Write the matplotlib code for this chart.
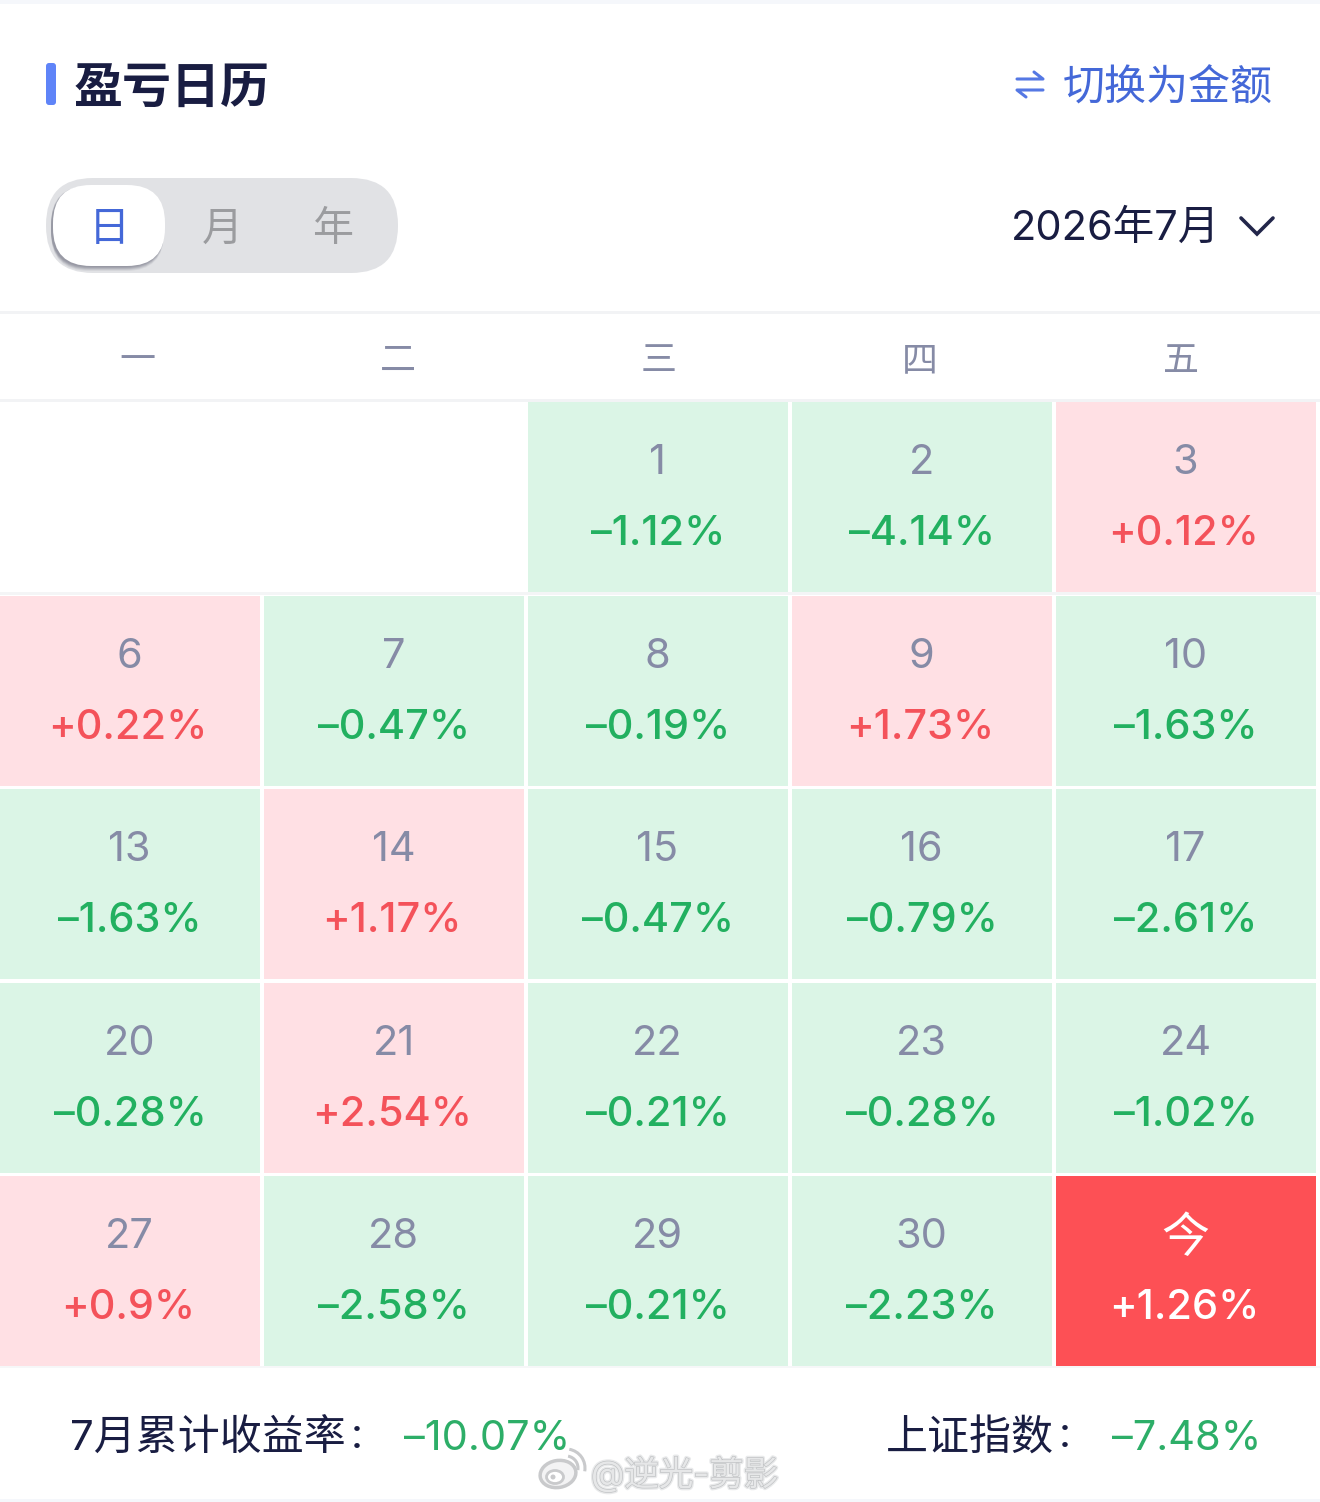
import matplotlib
matplotlib.use("Agg")
import matplotlib.pyplot as plt
import matplotlib.patheffects as pe
from matplotlib.patches import Rectangle, FancyBboxPatch, Ellipse, Arc

W, H = 1320, 1502
CJK = 'Noto Sans CJK SC'
LATIN = 'Inter'
plt.rcParams['font.family'] = [LATIN, CJK, 'DejaVu Sans']

title = '盈亏日历'
switch_label = '切换为金额'
tabs = ['日', '月', '年']
period = '2026年7月'
weekdays = ['一', '二', '三', '四', '五']
week1_days = [None, None, 1, 2, 3]
week1_vals = [None, None, -1.12, -4.14, 0.12]
week2_days = [6, 7, 8, 9, 10]
week2_vals = [0.22, -0.47, -0.19, 1.73, -1.63]
week3_days = [13, 14, 15, 16, 17]
week3_vals = [-1.63, 1.17, -0.47, -0.79, -2.61]
week4_days = [20, 21, 22, 23, 24]
week4_vals = [-0.28, 2.54, -0.21, -0.28, -1.02]
week5_days = [27, 28, 29, 30, '今']
week5_vals = [0.9, -2.58, -0.21, -2.23, 1.26]
summary_label = '7月累计收益率'
summary_value = -10.07
index_label = '上证指数'
index_value = -7.48
watermark = '@逆光-剪影'

days = [week1_days, week2_days, week3_days, week4_days, week5_days]
vals = [week1_vals, week2_vals, week3_vals, week4_vals, week5_vals]

DARK = '#191d42'
BLUE = '#4468d8'
SLATE = '#868ba6'
GREEN = '#22b060'
RED = '#f4525a'
BG_GREEN = '#dbf5e6'
BG_RED = '#ffe0e4'
TODAY = '#fd5055'

def px(s):
    return s * 72 / 100

def fmt(v):
    return f'{v:+g}%'.replace('-', '–')

fig = plt.figure(figsize=(W / 100, H / 100), dpi=100, facecolor='white')
ax = fig.add_axes([0, 0, 1, 1])
ax.set_xlim(0, W)
ax.set_ylim(H, 0)
ax.axis('off')

def rect(x0, y0, x1, y1, c, z=1, **k):
    ax.add_patch(Rectangle((x0, y0), x1 - x0, y1 - y0, fc=c, ec='none', zorder=z, **k))

def pill(x0, y0, x1, y1, r, c, z=2, alpha=1):
    ax.add_patch(FancyBboxPatch((x0 + r, y0 + r), x1 - x0 - 2 * r, y1 - y0 - 2 * r,
                                boxstyle=f'round,pad={r},rounding_size={r}',
                                fc=c, ec='none', zorder=z, alpha=alpha))

def label(x, y, s, size, color, ha='center', weight='normal', z=5, **k):
    return ax.text(x, y, s, fontsize=px(size), color=color, ha=ha, va='center_baseline',
                   fontweight=weight, zorder=z, **k)

# page strips and separators
rect(0, 0, W, 4, '#f5f7fb')
rect(0, 1499, W, H, '#f5f7fb')
rect(0, 311, W, 314, '#f2f3f5')
rect(0, 399, W, 402, '#f2f3f5')
rect(0, 592, W, 595, '#f4f5f6')
rect(0, 1366, W, 1368, '#f6f7f8')

# header
pill(46, 63, 56, 105, 3, '#5f84f8')
label(74, 83, title, 49, DARK, ha='left', weight='bold', family=[CJK])
label(1273, 84, switch_label, 42, BLUE, ha='right', family=[CJK])
ax.plot([1017, 1043, 1034], [79, 79, 72], color='#5578e4', lw=2.2, solid_capstyle='round', solid_joinstyle='round')
ax.plot([1043, 1017, 1026], [90, 90, 97], color='#5578e4', lw=2.2, solid_capstyle='round', solid_joinstyle='round')

# tab control
pill(46, 178, 398, 273, 47, '#e1e2e5', z=2)
for off, al in [(5, 0.12), (4, 0.18), (3, 0.25), (2, 0.3), (1, 0.3)]:
    pill(51, 185 + off, 164, 266 + off, 38, '#80828f', z=3, alpha=al)
pill(53, 185, 165, 266, 38, 'white', z=4)
for x, t, c in zip([109, 222, 333], tabs, [BLUE, '#9b9c9f', '#9b9c9f']):
    label(x, 225, t, 41, c, family=[CJK])

# period selector
label(1220, 225, period, 41.5, DARK, ha='right', family=[LATIN, CJK])
ax.plot([1241, 1257, 1273], [218, 234, 218], color='#22264a', lw=2.6, solid_capstyle='round', solid_joinstyle='miter')

# weekday header
for x, d in zip([137, 398, 659, 920, 1181], weekdays):
    label(x, 357, d, 36, SLATE, family=[CJK])

# calendar
col_edges = [(0, 260), (264, 524), (528, 788), (792, 1052), (1056, 1316)]
row_edges = [(402, 592), (596, 786), (789, 979), (983, 1173), (1176, 1366)]
for (y0, y1), drow, vrow in zip(row_edges, days, vals):
    for (x0, x1), d, v in zip(col_edges, drow, vrow):
        if v is None:
            continue
        today = d == '今'
        bg = TODAY if today else (BG_RED if v > 0 else BG_GREEN)
        fg = 'white' if today else (RED if v > 0 else GREEN)
        rect(x0, y0, x1, y1, bg)
        cx = (x0 + x1) / 2
        if today:
            label(cx - 1, y0 + 57, d, 48, 'white', family=[CJK])
        else:
            label(cx - 0.5, y0 + 57, str(d), 41.5, SLATE)
        label(cx - 1 + (1 if v < 0 else -1), y0 + 128, fmt(v), 41.5, fg, weight='medium')

# summary
label(70, 1435, summary_label, 42, DARK, ha='left', family=[LATIN, CJK])
label(357, 1433, ':', 42, DARK)
label(404, 1435, fmt(summary_value), 41.5, '#2dae68', ha='left')
label(886, 1434, index_label, 42, DARK, ha='left', family=[CJK])
label(1065, 1432, ':', 42, DARK)
label(1112, 1435, fmt(index_value), 41.5, '#2dae68', ha='left')

# watermark
WM = '#c9cacc'
ax.add_patch(Ellipse((558, 1474), 36, 27, angle=-10, fc='#f3f3f4', ec=WM, lw=2.5, zorder=7))
ax.add_patch(Ellipse((555, 1477), 17, 13, fc='white', ec=WM, lw=2, zorder=8))
ax.add_patch(Ellipse((553, 1477), 5, 5, fc=WM, ec='none', zorder=9))
ax.add_patch(Arc((566, 1468), 24, 24, theta1=-80, theta2=10, ec=WM, lw=2.2, zorder=8))
ax.add_patch(Arc((566, 1468), 38, 38, theta1=-80, theta2=10, ec=WM, lw=2.2, zorder=8))
wm = label(591, 1471, watermark, 34.5, '#e6e7e8', ha='left', z=7, family=[LATIN, CJK])
wm.set_path_effects([pe.withStroke(linewidth=3, foreground='#e9eaeb'),
                     pe.withStroke(linewidth=1, foreground='#c2c4c6')])

fig.savefig('out.png', dpi=100, facecolor='white')
